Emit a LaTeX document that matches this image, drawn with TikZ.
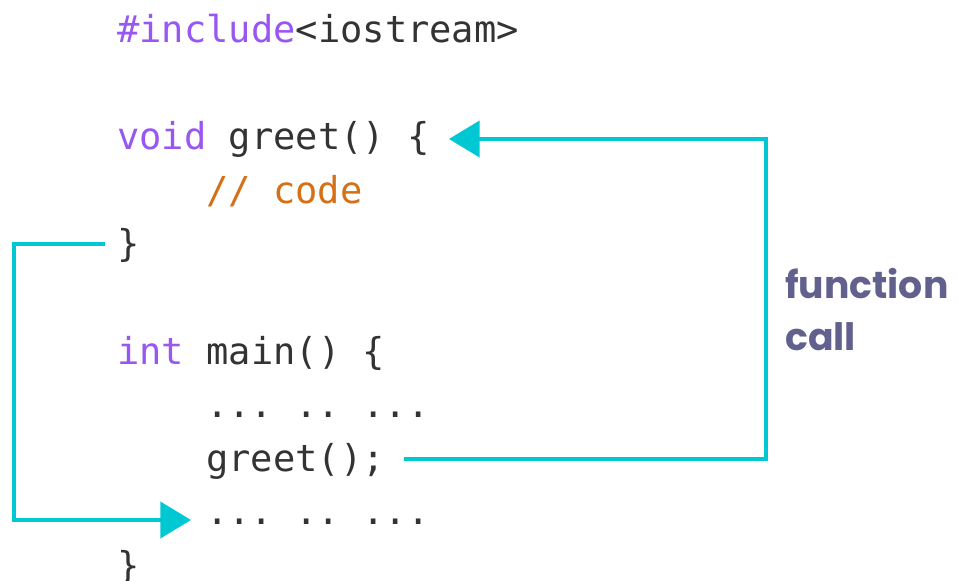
\documentclass[tikz,border=0pt]{standalone}
\usepackage{fontspec}
\newfontfamily\codefont{DejaVu Sans Mono}
\newfontfamily\notefont{Poppins}
\usetikzlibrary{arrows.meta,calc}

\definecolor{kwpurple}{RGB}{152,87,240}
\definecolor{cmtorange}{RGB}{214,112,22}
\definecolor{codegray}{RGB}{51,51,51}
\definecolor{flowcyan}{RGB}{0,200,210}
\definecolor{notepurple}{RGB}{98,96,140}

\tikzset{
  codeline/.style={anchor=base west,inner sep=0pt,text=codegray,
    font=\codefont\frenchspacing\fontsize{27.8}{33}\selectfont},
  flow/.style={draw=flowcyan,line width=3pt,
    -{Triangle[length=23pt,width=27pt]}},
  note/.style={anchor=base west,inner sep=0pt,align=left,text=notepurple,
    font=\notefont\bfseries\fontsize{28.3}{39}\selectfont}
}

\begin{document}
\begin{tikzpicture}[x=0.75pt,y=0.75pt,yscale=-1,xscale=1]
\useasboundingbox (0,0) rectangle (958,581);

% Text Node
\node[codeline] (include) at (117,43) {\textcolor{kwpurple}{\#include}<iostream>};
% Text Node
\node[codeline] (defn) at (117,150) {\textcolor{kwpurple}{void} greet() \{};
% Text Node
\node[codeline,text=cmtorange] (comment) at (206,203.5) {// code};
% Text Node
\node[codeline] (defend) at (117,257) {\}};
% Text Node
\node[codeline] (mainfn) at (117,364) {\textcolor{kwpurple}{int} main() \{};
% Text Node
\node[codeline] (dotsa) at (206,417.5) {... .. ...};
% Text Node
\node[codeline] (call) at (206,471) {greet();};
% Text Node
\node[codeline] (dotsb) at (206,524.5) {... .. ...};
% Text Node
\node[codeline] (mainend) at (117,578) {\}};
% Text Node
\node[note] (label) at (785,350) {function\\call};

%Corner points of the two arrows
\coordinate (rc) at (766,300);
\coordinate (lc) at (14,400);

%function call: greet(); -> greet() {
\draw[flow] ($(call.base east)+(19,-12)$) -| (rc) |- ($(defn.base east)+(19,-11)$);
%return: } -> next line in main
\draw[flow] ($(defend.base west)+(-12,-13)$) -| (lc) |- ($(dotsb.base west)+(-15,-4.5)$);

\end{tikzpicture}
\end{document}
